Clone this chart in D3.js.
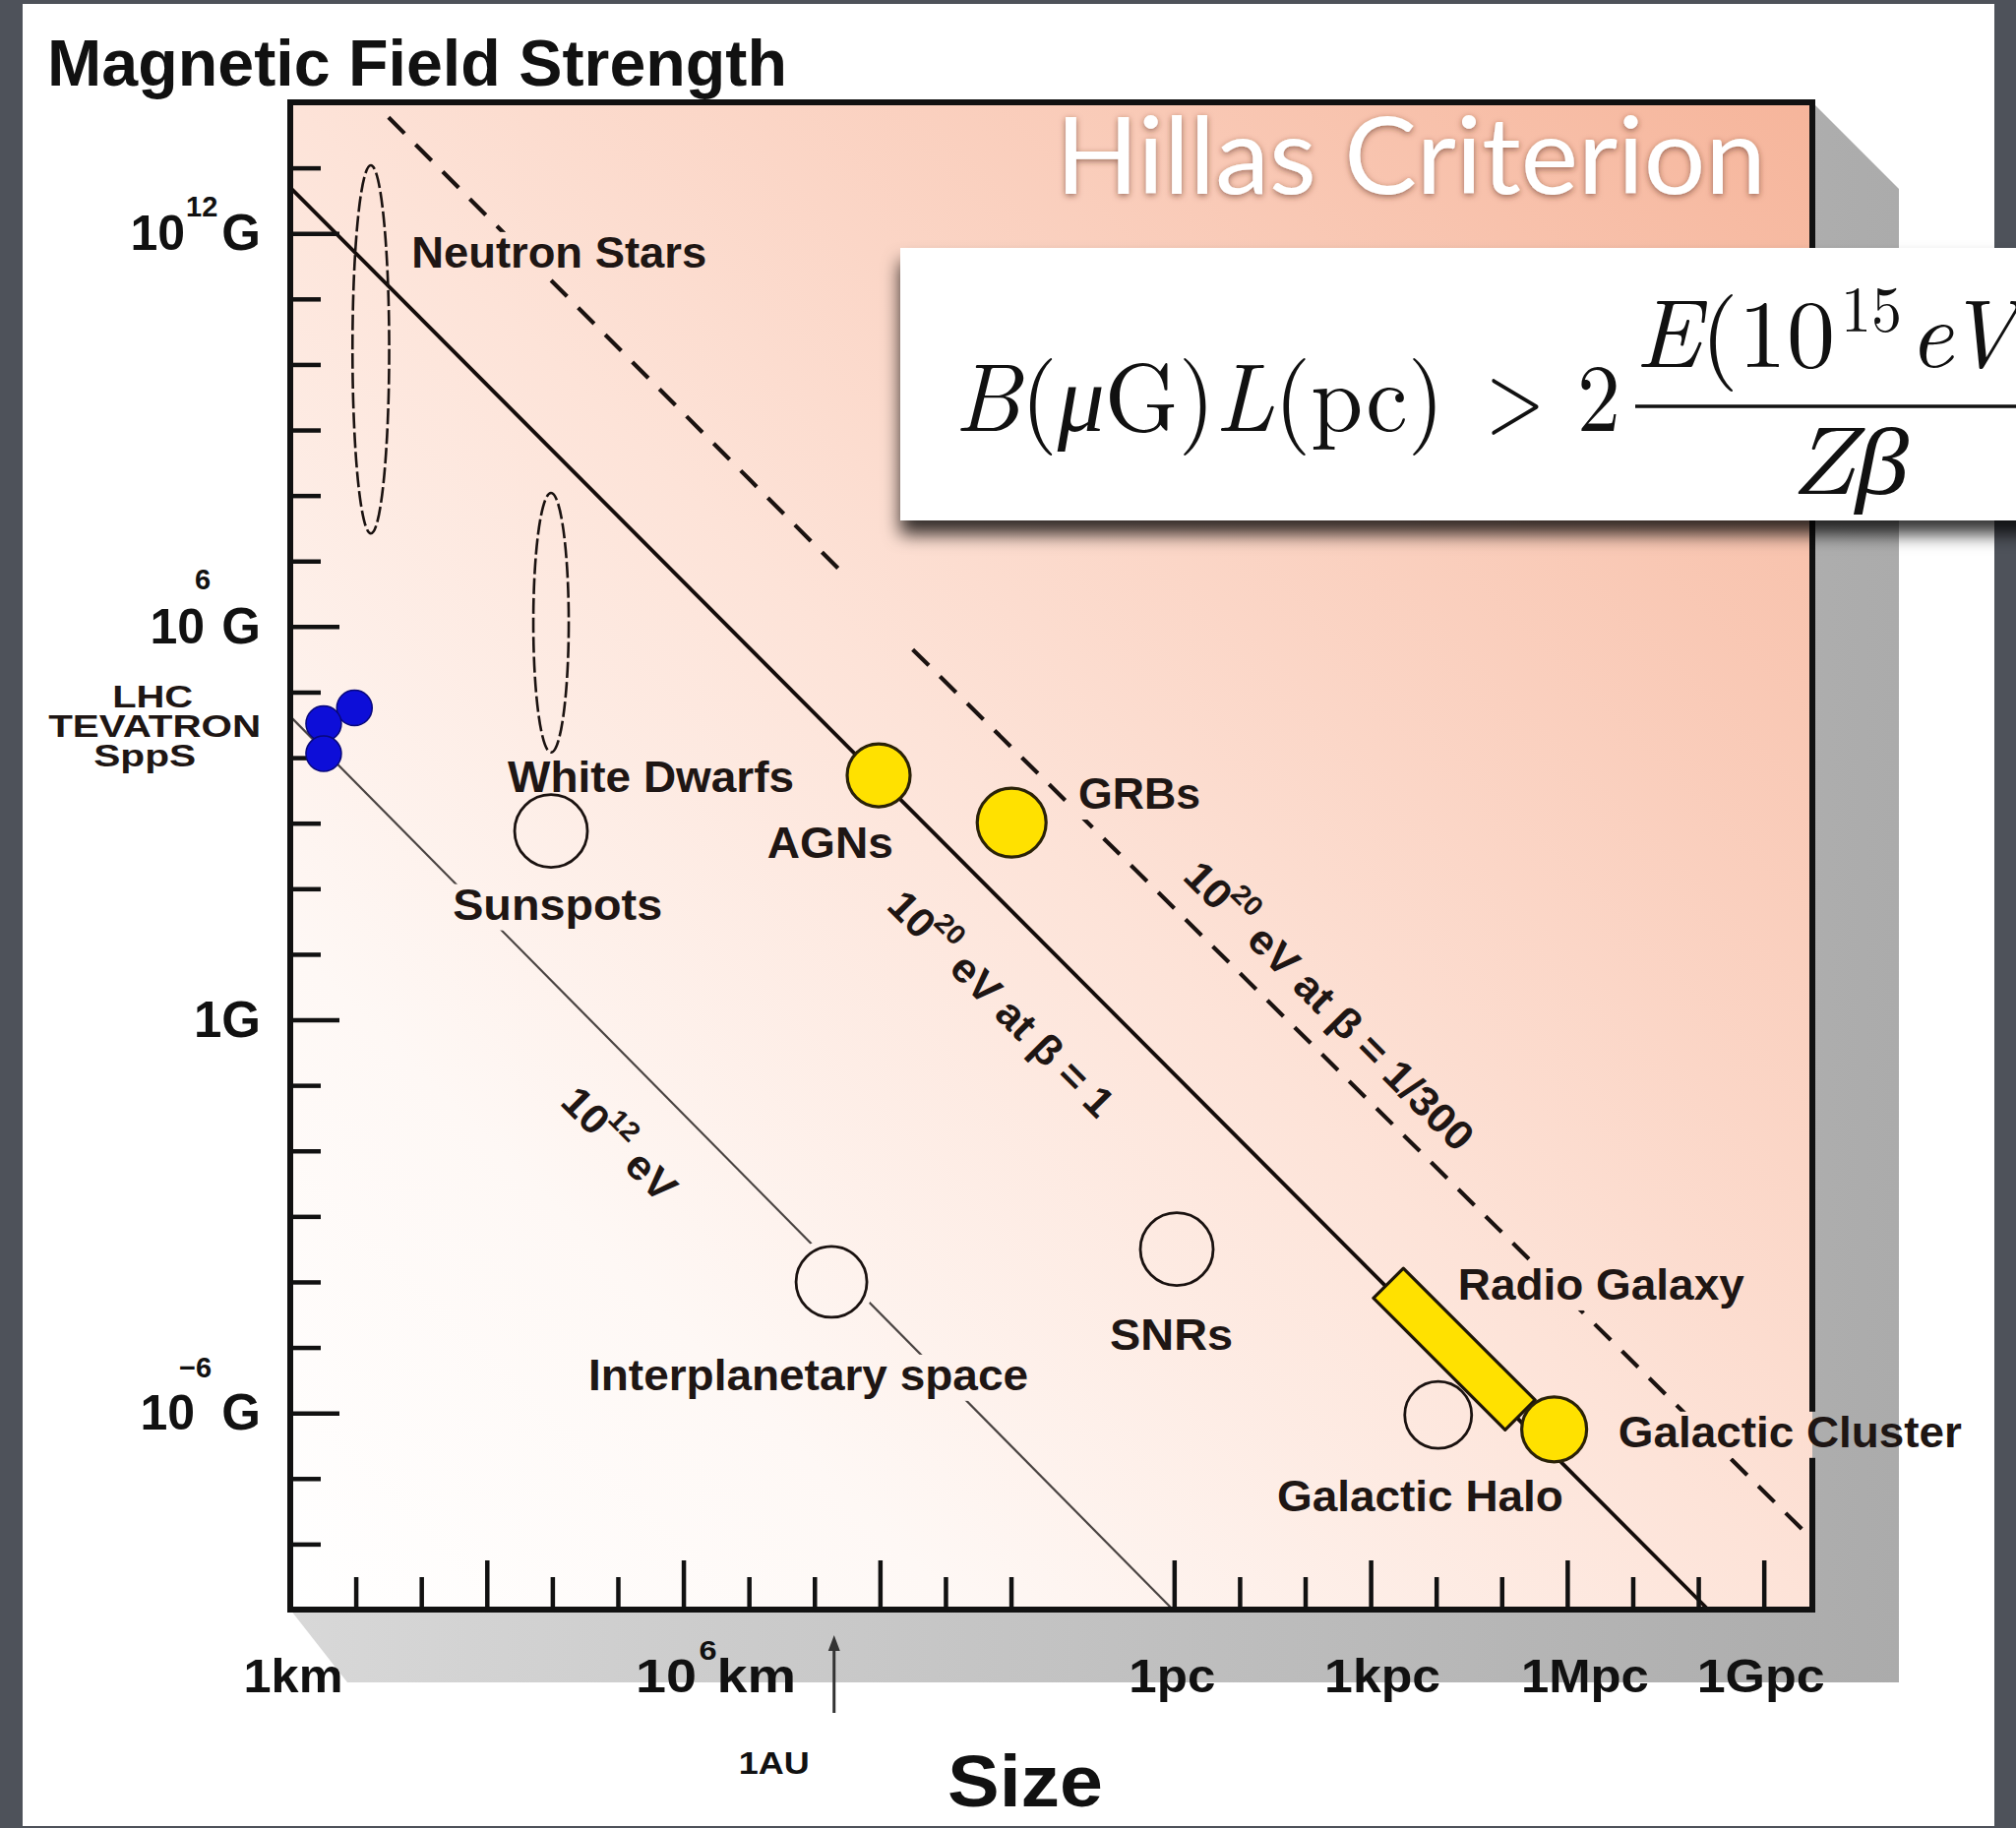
<!DOCTYPE html>
<html><head><meta charset="utf-8">
<script src="https://cdn.jsdelivr.net/npm/d3@7"></script>
<style>html,body{margin:0;padding:0;background:#4e525a;overflow:hidden}</style>
</head><body>
<svg id="c" width="2049" height="1858" xmlns="http://www.w3.org/2000/svg"></svg>
<script>
// ---------------- DATA (log10 of size in km, log10 of B in gauss) ----------------
const PC_KM = 3.0857e13;                  // 1 parsec in km
const yMajorExp = [12, 6, 0, -6];
const yMinorExp = [13, 11, 10, 9, 8, 7, 5, 4, 3, 2, 1, -1, -2, -3, -4, -5, -7, -8];
const xMajorKm = [1e3, 1e6, 1e9];
const xMinorKm = [1e1, 1e2, 1e4, 1e5, 1e7, 1e8, 1e10, 1e11];
const xMajorPc = [1, 1e3, 1e6, 1e9];
const xMinorPc = [10, 100, 1e4, 1e5, 1e7, 1e8];
const yTickLabels = [
  {exp: 12, base: "10", sup: "12", unit: "G"},
  {exp: 6,  base: "10", sup: "6",  unit: "G"},
  {exp: 0,  base: "1",  sup: "",   unit: "G"},
  {exp: -6, base: "10", sup: "\u22126", unit: "G"}
];
const xTickLabels = [
  {km: 1,            base: "1km"},
  {km: 1e6,          base: "10", sup: "6", unit: "km"},
  {km: PC_KM,        base: "1pc"},
  {km: 1e3 * PC_KM,  base: "1kpc"},
  {km: 1e6 * PC_KM,  base: "1Mpc"},
  {km: 1e9 * PC_KM,  base: "1Gpc"}
];
const auLogKm = 8.3;   // "1AU" arrow as drawn

// Hillas lines: endpoints [logL(km), logB(G)]
const lineBeta1   = [[0, 12.70], [21.64, -9]];
const lineBeta300 = [[[1.50, 13.77], [8.42, 6.83]], [[9.50, 5.65], [23.20, -7.90]]];
const line1e12    = [[0, 4.63], [13.47, -9]];

// sources
const ellipseSources = [
  {name: "Neutron Stars", L: [0.95, 1.51], B: [7.42, 13.04]},
  {name: "White Dwarfs",  L: [3.71, 4.25], B: [4.08, 8.04]}
];
const openSources = [
  {name: "Sunspots",             L: 3.98,  B: 2.88},
  {name: "Interplanetary space", L: 8.26,  B: -4.00},
  {name: "SNRs",                 L: 13.53, B: -3.50},
  {name: "Galactic Halo",        L: 17.52, B: -6.03}
];
const filledSources = [
  {name: "AGNs",             L: 8.98,  B: 3.73},
  {name: "GRBs",             L: 11.01, B: 3.01},
  {name: "Galactic Cluster", L: 19.29, B: -6.25}
];
const radioGalaxy = {name: "Radio Galaxy", L: [16.76, 18.77], B: [-4.02, -6.03]};
const colliders = [
  {name: "LHC",      L: 0.98, B: 4.76},
  {name: "TEVATRON", L: 0.51, B: 4.52},
  {name: "SppS",     L: 0.51, B: 4.06}
];
// label anchors (left end of baseline) in data coordinates
const sourceLabels = [
  {text: "Neutron Stars",        L: 1.85,  B: 11.48},
  {text: "White Dwarfs",         L: 3.32,  B: 3.48},
  {text: "Sunspots",             L: 2.48,  B: 1.53},
  {text: "AGNs",                 L: 7.28,  B: 2.47},
  {text: "GRBs",                 L: 12.03, B: 3.22},
  {text: "SNRs",                 L: 12.51, B: -5.04},
  {text: "Interplanetary space", L: 4.55,  B: -5.65},
  {text: "Radio Galaxy",         L: 17.82, B: -4.27},
  {text: "Galactic Cluster",     L: 20.27, B: -6.52},
  {text: "Galactic Halo",        L: 15.06, B: -7.50}
];
const colliderLabels = [
  {text: "LHC",      L: -2.10, B: 4.77},
  {text: "TEVATRON", L: -2.07, B: 4.31},
  {text: "SppS",     L: -2.22, B: 3.87}
];
const lineLabels = [
  {base: "10", sup: "20", rest: " eV at \u03B2 = 1",     L: 9.08,  B: 1.71},
  {base: "10", sup: "20", rest: " eV at \u03B2 = 1/300", L: 13.60, B: 2.16},
  {base: "10", sup: "12", rest: " eV",                   L: 4.10,  B: -1.28}
];

// ---------------- STYLE / LAYOUT ----------------
const W = 2049, H = 1858;
const PX = {x0: 295, x1: 1842, y0: 104, y1: 1636};
const sans = "'Liberation Sans', Arial, Helvetica, sans-serif";
const serif = "'Latin Modern Roman','CMU Serif','Liberation Serif','DejaVu Serif',serif";
const ink = "#1e1614";
const labelWidths = {"Neutron Stars": 300, "White Dwarfs": 291, "Sunspots": 213, "AGNs": 128, "GRBs": 124,
  "SNRs": 125, "Interplanetary space": 447, "Radio Galaxy": 291, "Galactic Cluster": 349, "Galactic Halo": 291,
  "LHC": 82, "TEVATRON": 216, "SppS": 104};
const markerR = {"Sunspots": 37, "Interplanetary space": 36, "SNRs": 37, "Galactic Halo": 34,
  "AGNs": 32, "GRBs": 35, "Galactic Cluster": 33, "LHC": 18, "TEVATRON": 18, "SppS": 18};
const lineLabelLen = [305, 396, 145];

// ---------------- SCALES ----------------
const x = d3.scaleLog().domain([1, Math.pow(10, 23.23)]).range([PX.x0, PX.x1]);
const y = d3.scaleLog().domain([1e-9, 1e14]).range([PX.y1, PX.y0]);
const X = l => x(Math.pow(10, l));
const Y = b => y(Math.pow(10, b));

const svg = d3.select("#c");
const defs = svg.append("defs");

const pg = defs.append("linearGradient").attr("id", "plotGrad")
  .attr("x1", 0).attr("y1", 1).attr("x2", 1).attr("y2", 0);
[[0, "#ffffff"], [0.22, "#fef8f5"], [0.5, "#fde3d8"], [1, "#f6b59b"]]
  .forEach(([o, c]) => pg.append("stop").attr("offset", o).attr("stop-color", c));
const sg = defs.append("linearGradient").attr("id", "shadowGrad").attr("gradientUnits", "userSpaceOnUse")
  .attr("x1", PX.x0).attr("y1", 0).attr("x2", 1930).attr("y2", 0);
[[0, "#d8d8d8"], [1, "#ababab"]].forEach(([o, c]) => sg.append("stop").attr("offset", o).attr("stop-color", c));

const bs = defs.append("filter").attr("id", "boxShadow").attr("x", "-5%").attr("y", "-20%").attr("width", "110%").attr("height", "160%");
bs.append("feDropShadow").attr("dx", 0).attr("dy", 14).attr("stdDeviation", 9).attr("flood-color", "#000").attr("flood-opacity", 0.8);
const ts = defs.append("filter").attr("id", "txtShadow").attr("x", "-5%").attr("y", "-20%").attr("width", "110%").attr("height", "150%");
ts.append("feDropShadow").attr("dx", 0).attr("dy", 2).attr("stdDeviation", 3).attr("flood-color", "#5a2a1a").attr("flood-opacity", 0.6);

const mask = defs.append("mask").attr("id", "knock").attr("maskUnits", "userSpaceOnUse")
  .attr("x", 0).attr("y", 0).attr("width", W).attr("height", H);
mask.append("rect").attr("x", 0).attr("y", 0).attr("width", W).attr("height", H).attr("fill", "#fff");

// slide
svg.append("rect").attr("width", W).attr("height", H).attr("fill", "#4e525a");
svg.append("rect").attr("x", 23).attr("y", 4).attr("width", 2004).attr("height", 1852).attr("fill", "#fff");

// title
svg.append("text").attr("x", 48).attr("y", 87).attr("font-family", sans).attr("font-weight", "bold")
  .attr("font-size", 66).attr("fill", "#111").attr("textLength", 752).attr("lengthAdjust", "spacingAndGlyphs")
  .text("Magnetic Field Strength");

// 3D shadow
svg.append("polygon").attr("fill", "url(#shadowGrad)").attr("points", [
  [PX.x0, PX.y1], [PX.x0 + 58, PX.y1 + 74], [PX.x1 + 88, PX.y1 + 74],
  [PX.x1 + 88, PX.y0 + 88], [PX.x1, PX.y0], [PX.x1, PX.y1]].map(p => p.join(",")).join(" "));

// plot background
svg.append("rect").attr("x", PX.x0).attr("y", PX.y0).attr("width", PX.x1 - PX.x0).attr("height", PX.y1 - PX.y0)
  .attr("fill", "url(#plotGrad)");

// lines (masked by labels)
const gLines = svg.append("g").attr("mask", "url(#knock)");
const seg = (a, b) => gLines.append("line").attr("x1", X(a[0])).attr("y1", Y(a[1])).attr("x2", X(b[0])).attr("y2", Y(b[1]));
seg(line1e12[0], line1e12[1]).attr("stroke", "#4a4442").attr("stroke-width", 2.2);
seg(lineBeta1[0], lineBeta1[1]).attr("stroke", "#140c0a").attr("stroke-width", 3.8);
lineBeta300.forEach(s => seg(s[0], s[1]).attr("stroke", "#1a1210").attr("stroke-width", 4.2).attr("stroke-dasharray", "23 16"));

// axes ticks
const tickStyle = g => { g.select(".domain").remove(); g.selectAll(".tick line").attr("stroke", "#111").attr("stroke-width", 4.5); g.selectAll(".tick text").remove(); };
svg.append("g").attr("transform", `translate(${PX.x0},0)`)
  .call(d3.axisRight(y).tickValues(yMinorExp.map(e => Math.pow(10, e))).tickSize(31).tickFormat("")).call(tickStyle);
svg.append("g").attr("transform", `translate(${PX.x0},0)`)
  .call(d3.axisRight(y).tickValues(yMajorExp.map(e => Math.pow(10, e))).tickSize(50).tickFormat("")).call(tickStyle);
svg.append("g").attr("transform", `translate(0,${PX.y1})`)
  .call(d3.axisTop(x).tickValues(xMinorKm.concat(xMinorPc.map(v => v * PC_KM))).tickSize(33).tickFormat("")).call(tickStyle);
svg.append("g").attr("transform", `translate(0,${PX.y1})`)
  .call(d3.axisTop(x).tickValues(xMajorKm.concat(xMajorPc.map(v => v * PC_KM))).tickSize(50).tickFormat("")).call(tickStyle);

// frame
const gFrame = svg.append("g").attr("mask", "url(#knock)");
gFrame.append("rect").attr("x", PX.x0).attr("y", PX.y0).attr("width", PX.x1 - PX.x0).attr("height", PX.y1 - PX.y0)
  .attr("fill", "none").attr("stroke", "#111").attr("stroke-width", 6);

// sources
const gSrc = svg.append("g");
ellipseSources.forEach(d => {
  const cx = (X(d.L[0]) + X(d.L[1])) / 2, cy = (Y(d.B[0]) + Y(d.B[1])) / 2;
  gSrc.append("ellipse").attr("cx", cx).attr("cy", cy)
    .attr("rx", Math.abs(X(d.L[1]) - X(d.L[0])) / 2).attr("ry", Math.abs(Y(d.B[1]) - Y(d.B[0])) / 2)
    .attr("fill", "none").attr("stroke", "#1a1210").attr("stroke-width", 2.6).attr("stroke-dasharray", "16 4");
});
openSources.forEach(d => {
  gSrc.append("circle").attr("cx", X(d.L)).attr("cy", Y(d.B)).attr("r", markerR[d.name])
    .attr("fill", "none").attr("stroke", "#1a1210").attr("stroke-width", 2.8);
  mask.append("circle").attr("cx", X(d.L)).attr("cy", Y(d.B)).attr("r", markerR[d.name] + 8).attr("fill", "#000");
});
// radio galaxy bar
(() => {
  const ax = X(radioGalaxy.L[0]), ay = Y(radioGalaxy.B[0]), bx = X(radioGalaxy.L[1]), by = Y(radioGalaxy.B[1]);
  const len = Math.hypot(bx - ax, by - ay), ux = (bx - ax) / len, uy = (by - ay) / len, hw = 21.5;
  const nx = -uy * hw, ny = ux * hw;
  gSrc.append("polygon").attr("points", [[ax + nx, ay + ny], [bx + nx, by + ny], [bx - nx, by - ny], [ax - nx, ay - ny]].map(p => p.join(",")).join(" "))
    .attr("fill", "#ffe100").attr("stroke", "#1e1608").attr("stroke-width", 3.2).attr("stroke-linejoin", "round");
})();
filledSources.forEach(d => {
  gSrc.append("circle").attr("cx", X(d.L)).attr("cy", Y(d.B)).attr("r", markerR[d.name])
    .attr("fill", "#ffe100").attr("stroke", "#2a2208").attr("stroke-width", 3.2);
});
colliders.forEach(d => {
  gSrc.append("circle").attr("cx", X(d.L)).attr("cy", Y(d.B)).attr("r", markerR[d.name])
    .attr("fill", "#0d0ed8").attr("stroke", "#08087a").attr("stroke-width", 1.5);
});

// labels
const gLab = svg.append("g").attr("font-family", sans).attr("font-weight", "bold").attr("fill", ink);
sourceLabels.forEach(d => {
  const t = gLab.append("text").attr("x", X(d.L)).attr("y", Y(d.B)).attr("font-size", 44)
    .attr("textLength", labelWidths[d.text]).attr("lengthAdjust", "spacingAndGlyphs").text(d.text);
  const bb = t.node().getBBox();
  mask.append("rect").attr("x", bb.x - 6).attr("y", bb.y + 4).attr("width", bb.width + 12).attr("height", bb.height - 2).attr("fill", "#000");
});
colliderLabels.forEach(d => {
  gLab.append("text").attr("x", X(d.L)).attr("y", Y(d.B)).attr("font-size", 32).attr("text-anchor", "middle")
    .attr("textLength", labelWidths[d.text]).attr("lengthAdjust", "spacingAndGlyphs").text(d.text);
});
lineLabels.forEach((d, i) => {
  const t = gLab.append("text").attr("transform", `translate(${X(d.L)},${Y(d.B)}) rotate(45)`).attr("font-size", 42)
    .attr("textLength", lineLabelLen[i]).attr("lengthAdjust", "spacingAndGlyphs");
  t.append("tspan").text(d.base);
  t.append("tspan").attr("font-size", 28).attr("dy", -22).attr("dx", -2).text(d.sup);
  t.append("tspan").attr("dy", 22).text(d.rest);
});

// y tick labels
const yLabLayout = {"12": {baseEnd: 188, supX: 189, supDy: -17}, "6": {baseEnd: 208, supX: 198, supDy: -38},
  "0": {}, "-6": {baseEnd: 198, supX: 182, supDy: -36}};
const gAx = svg.append("g").attr("font-family", sans).attr("font-weight", "bold").attr("fill", "#111");
yTickLabels.forEach(d => {
  const ty = y(Math.pow(10, d.exp)), lay = yLabLayout[String(d.exp)];
  if (!d.sup) {
    gAx.append("text").attr("x", 265).attr("y", ty + 17).attr("font-size", 51).attr("text-anchor", "end").text(d.base + d.unit);
  } else {
    gAx.append("text").attr("x", lay.baseEnd).attr("y", ty + 17).attr("font-size", 50).attr("text-anchor", "end").text(d.base);
    gAx.append("text").attr("x", lay.supX).attr("y", ty + lay.supDy).attr("font-size", 29).text(d.sup);
    gAx.append("text").attr("x", 265).attr("y", ty + 17).attr("font-size", 51).attr("text-anchor", "end").text(d.unit);
  }
});
// x tick labels
const xLabDx = {"1km": 3, "10km": 33, "1pc": -2, "1kpc": 12, "1Mpc": 18, "1Gpc": -3};
const xLabW = {"1km": 101, "10km": 163, "1pc": 88, "1kpc": 118, "1Mpc": 130, "1Gpc": 130};
xTickLabels.forEach(d => {
  const key = d.base + (d.unit || "");
  const t = gAx.append("text").attr("x", x(d.km) + xLabDx[key]).attr("y", 1720).attr("font-size", 48)
    .attr("text-anchor", "middle").attr("textLength", xLabW[key]).attr("lengthAdjust", "spacingAndGlyphs");
  t.append("tspan").text(d.base);
  if (d.sup) {
    t.append("tspan").attr("font-size", 28).attr("dy", -33).attr("dx", 2).text(d.sup);
    t.append("tspan").attr("dy", 33).text(d.unit);
  }
});
// 1AU arrow
const auX = X(auLogKm);
gAx.append("line").attr("x1", auX).attr("x2", auX).attr("y1", 1741).attr("y2", 1672).attr("stroke", "#333").attr("stroke-width", 3);
gAx.append("path").attr("d", `M${auX},1662 L${auX - 6},1678 L${auX + 6},1678 Z`).attr("fill", "#333");
gAx.append("text").attr("x", auX - 61).attr("y", 1803).attr("font-size", 32).attr("text-anchor", "middle")
  .attr("textLength", 72).attr("lengthAdjust", "spacingAndGlyphs").text("1AU");
gAx.append("text").attr("x", 1042).attr("y", 1836).attr("font-size", 74).attr("text-anchor", "middle")
  .attr("textLength", 158).attr("lengthAdjust", "spacingAndGlyphs").text("Size");

// Hillas Criterion title
svg.append("text").attr("x", 1073).attr("y", 197).attr("font-family", "Lato, 'Open Sans', sans-serif").attr("font-weight", 400)
  .attr("font-size", 108).attr("fill", "#fff").attr("textLength", 722).attr("lengthAdjust", "spacingAndGlyphs")
  .attr("filter", "url(#txtShadow)").text("Hillas Criterion");

// formula box
const fg = svg.append("g").attr("font-family", serif).attr("fill", "#111");
fg.append("rect").attr("x", 915).attr("y", 252).attr("width", 1160).attr("height", 277).attr("fill", "#fff").attr("filter", "url(#boxShadow)");
const m = fg.append("text").attr("x", 970).attr("y", 438).attr("font-size", 98).attr("textLength", 498).attr("lengthAdjust", "spacingAndGlyphs");
m.append("tspan").attr("font-style", "italic").text("B");
m.append("tspan").text("(");
m.append("tspan").attr("font-style", "italic").text("\u03BC");
m.append("tspan").text("G)");
m.append("tspan").attr("font-style", "italic").text("L");
m.append("tspan").text("(pc)");
fg.append("text").attr("x", 1510).attr("y", 438).attr("font-size", 98).attr("textLength", 60).attr("lengthAdjust", "spacingAndGlyphs").text(">");
fg.append("text").attr("x", 1603).attr("y", 438).attr("font-size", 98).attr("textLength", 44).attr("lengthAdjust", "spacingAndGlyphs").text("2");
fg.append("line").attr("x1", 1662).attr("x2", 2060).attr("y1", 413).attr("y2", 413).attr("stroke", "#111").attr("stroke-width", 3.5);
const nu = fg.append("text").attr("x", 1662).attr("y", 373).attr("font-size", 98).attr("textLength", 203).attr("lengthAdjust", "spacingAndGlyphs");
nu.append("tspan").attr("font-style", "italic").text("E");
nu.append("tspan").text("(10");
fg.append("text").attr("x", 1871).attr("y", 337).attr("font-size", 66).attr("textLength", 62).attr("lengthAdjust", "spacingAndGlyphs").text("15");
fg.append("text").attr("x", 1940).attr("y", 373).attr("font-size", 98).attr("font-style", "italic").text("eV)");
fg.append("text").attr("x", 1819).attr("y", 502).attr("font-size", 98).attr("font-style", "italic")
  .attr("textLength", 121).attr("lengthAdjust", "spacingAndGlyphs").text("Z\u03B2");
</script>
</body></html>
